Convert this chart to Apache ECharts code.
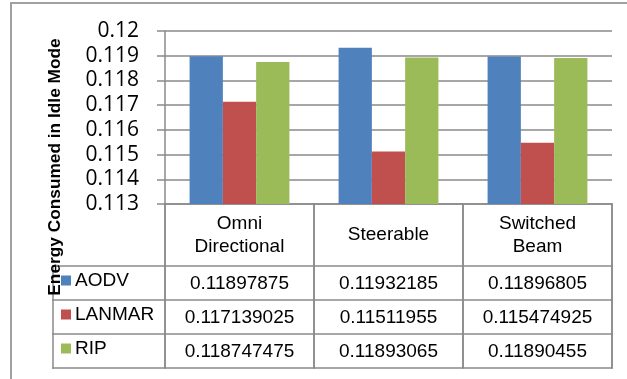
<!DOCTYPE html>
<html>
<head>
<meta charset="utf-8">
<script src="https://cdn.jsdelivr.net/npm/echarts@6/dist/echarts.min.js"></script>
<style>
  html, body { margin: 0; padding: 0; background: #fff; }
  #chart { width: 627px; height: 379px; }
</style>
</head>
<body>
<div id="chart"></div>
<script>
// Antenna types (categories) and the idle-mode energy of each routing protocol
const categories = ['Omni\nDirectional', 'Steerable', 'Switched\nBeam'];
const seriesNames = ['AODV', 'LANMAR', 'RIP'];
const aodv = [0.11897875, 0.11932185, 0.11896805];
const lanmar = [0.117139025, 0.11511955, 0.115474925];
const rip = [0.118747475, 0.11893065, 0.11890455];
const yMin = 0.113, yMax = 0.12, yStep = 0.001;
const axisTitle = 'Energy Consumed in Idle Mode';

const seriesValues = [aodv, lanmar, rip];
const colors = ['#4F81BD', '#C0504D', '#9BBB59'];
const LINE = '#8a8a8a';
const TABLE_FONT = '"Liberation Sans", Arial, sans-serif';
const TABLE_SIZE = 19;
const headerHeight = 62, rowHeight = 34, labelColLeft = 53;
const tableHeight = headerHeight + rowHeight * seriesNames.length;

const chart = echarts.init(document.getElementById('chart'), null, { renderer: 'canvas' });

chart.setOption({
  animation: false,
  grid: { left: 165, right: 15, top: 31, bottom: 175 },
  xAxis: {
    type: 'category',
    data: categories,
    axisLine: { show: true, lineStyle: { color: LINE, width: 1.5 } },
    // ticks run down through the data table and form its column borders
    axisTick: { show: true, interval: 0, length: tableHeight, lineStyle: { color: LINE, width: 1.5 } },
    axisLabel: {
      margin: headerHeight / 2, verticalAlign: 'middle',
      fontSize: TABLE_SIZE, lineHeight: 23, color: '#000', fontFamily: TABLE_FONT
    }
  },
  yAxis: {
    type: 'value', min: yMin, max: yMax, interval: yStep,
    axisLine: { show: true, lineStyle: { color: LINE, width: 1.5 } },
    axisTick: { show: true, length: 8, lineStyle: { color: LINE, width: 1.5 } },
    splitLine: { lineStyle: { color: LINE, width: 1.5 } },
    axisLabel: {
      margin: 26, fontSize: 21, color: '#000', fontFamily: '"Open Sans", sans-serif',
      formatter: v => String(+v.toFixed(3))
    }
  },
  series: seriesNames.map((name, i) => ({
    name, type: 'bar', data: seriesValues[i],
    itemStyle: { color: colors[i] },
    barGap: '0%', barCategoryGap: '33%'
  }))
});

// Data table under the plot, laid out from the category axis positions
const c0 = chart.convertToPixel({ xAxisIndex: 0 }, 0);
const c1 = chart.convertToPixel({ xAxisIndex: 0 }, 1);
const band = c1 - c0;
const tableRight = chart.convertToPixel({ xAxisIndex: 0 }, categories.length - 1) + band / 2;
const axisY = chart.convertToPixel({ yAxisIndex: 0 }, yMin);
const firstRowTop = axisY + headerHeight;
const tableBottom = firstRowTop + rowHeight * seriesNames.length;

const elements = [];
// table rules drawn as thin filled rects
const hRule = (x1, x2, y) => ({
  type: 'rect', silent: true, z: 10,
  shape: { x: x1 - 0.75, y: y - 0.75, width: x2 - x1 + 1.5, height: 1.5 },
  style: { fill: LINE }
});
const vRule = (x, y1, y2) => ({
  type: 'rect', silent: true, z: 10,
  shape: { x: x - 0.75, y: y1 - 0.75, width: 1.5, height: y2 - y1 + 1.5 },
  style: { fill: LINE }
});
const text = (str, x, y, align) => ({
  type: 'text', silent: true, z: 20, x, y,
  style: {
    text: str, fill: '#000', fontSize: TABLE_SIZE, fontFamily: TABLE_FONT,
    align, verticalAlign: 'middle', textAlign: align, textVerticalAlign: 'middle'
  }
});

// chart frame
elements.push({
  type: 'rect', silent: true, z: 1,
  shape: { x: 11, y: 3, width: 800, height: 600 },
  style: { fill: 'none', stroke: '#a0a0a0', lineWidth: 2 }
});

for (let r = 0; r <= seriesNames.length; r++) {
  elements.push(hRule(labelColLeft, tableRight, firstRowTop + r * rowHeight));
}
elements.push(vRule(labelColLeft, firstRowTop, tableBottom));
for (let c = 0; c <= categories.length; c++) {
  elements.push(vRule(c0 - band / 2 + c * band, axisY, tableBottom));
}

seriesNames.forEach((name, r) => {
  const cy = firstRowTop + r * rowHeight + rowHeight / 2;
  elements.push({
    type: 'rect', silent: true, z: 20,
    shape: { x: 61, y: cy - 7.5, width: 10, height: 10 },
    style: { fill: colors[r] }
  });
  elements.push(text(name, 75, cy - 2.5, 'left'));
  seriesValues[r].forEach((v, c) => {
    const cx = chart.convertToPixel({ xAxisIndex: 0 }, c);
    elements.push(text(String(v), cx, cy + 0.5, 'center'));
  });
});

// vertical axis title, centred on the plot plus table
elements.push({
  type: 'text', silent: true, z: 30,
  x: 55, y: 167, rotation: Math.PI / 2,
  style: {
    text: axisTitle, fill: '#000', fontSize: 17.3, fontWeight: 'bold', fontFamily: TABLE_FONT,
    align: 'center', verticalAlign: 'middle', textAlign: 'center', textVerticalAlign: 'middle'
  }
});

chart.setOption({ graphic: { elements } });
</script>
</body>
</html>
